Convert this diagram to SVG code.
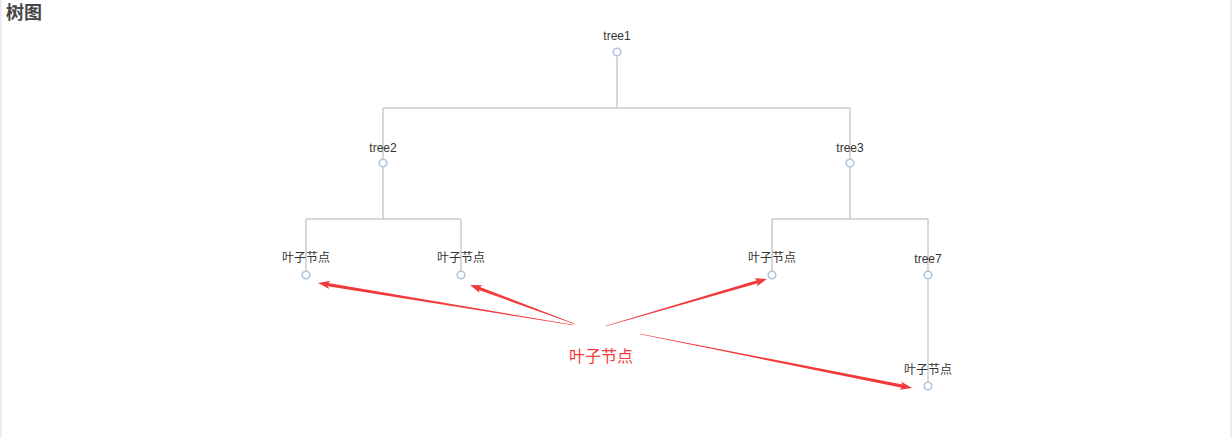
<svg xmlns="http://www.w3.org/2000/svg" width="1232" height="437" viewBox="0 0 1232 437">
<style>
.title{font-family:"Liberation Sans","Noto Sans CJK SC",sans-serif;font-size:18px;font-weight:bold;fill:#464646}
.lbl{font-family:"Liberation Sans","Noto Sans CJK SC",sans-serif;font-size:12px;fill:#333;text-anchor:middle}
.big{font-family:"Liberation Sans","Noto Sans CJK SC",sans-serif;font-size:16px;fill:#f23a3a;text-anchor:middle}
.node{fill:#fff;stroke:#b0c4de;stroke-width:1.6}
.link{fill:none;stroke:#ccc;stroke-width:1.5}
.arr{fill:#f23a3a}
</style>
<rect x="0" y="0" width="1232" height="437" fill="#fff"/>
<rect x="0" y="0" width="2" height="437" fill="#ececf0"/>
<rect x="1230" y="0" width="2" height="437" fill="#ececf0"/>
<text class="title" x="6" y="19">树图</text>
<g id="links">
<path class="link" d="M617,56 V108 M383,108 H850 M383,108 V159 M850,108 V159"/>
<path class="link" d="M383,167 V219 M306,219 H461 M306,219 V271 M461,219 V271"/>
<path class="link" d="M850,167 V219 M772,219 H928 M772,219 V271 M928,219 V271"/>
<path class="link" d="M928,279 V382"/>
</g>
<g id="tree1"><text class="lbl" x="617" y="40">tree1</text><circle class="node" cx="617" cy="52" r="3.8"/></g>
<g id="tree2"><text class="lbl" x="383" y="152">tree2</text><circle class="node" cx="383" cy="163" r="3.8"/></g>
<g id="tree3"><text class="lbl" x="850" y="152">tree3</text><circle class="node" cx="850" cy="163" r="3.8"/></g>
<g id="leaf1"><text class="lbl" x="306" y="262">叶子节点</text><circle class="node" cx="306" cy="275" r="3.8"/></g>
<g id="leaf2"><text class="lbl" x="461" y="262">叶子节点</text><circle class="node" cx="461" cy="275" r="3.8"/></g>
<g id="leaf3"><text class="lbl" x="772" y="262">叶子节点</text><circle class="node" cx="772" cy="275" r="3.8"/></g>
<g id="tree7"><text class="lbl" x="928" y="263">tree7</text><circle class="node" cx="928" cy="275" r="3.8"/></g>
<g id="leaf4"><text class="lbl" x="928" y="374">叶子节点</text><circle class="node" cx="928" cy="386" r="3.8"/></g>
<g id="annotation">
<text class="big" x="601" y="362">叶子节点</text>
<g id="arrows">
<polygon class="arr" transform="translate(573,325) rotate(189.35)" points="0,-0.3 248.4,-1.6 246.4,-4.2 258.4,0 246.4,4.2 248.4,1.6 0,0.3"/>
<polygon class="arr" transform="translate(575,324) rotate(200.38)" points="0,-0.3 102,-1.6 100,-4.2 112,0 100,4.2 102,1.6 0,0.3"/>
<polygon class="arr" transform="translate(606,326) rotate(-16.27)" points="0,-0.3 157.7,-1.6 155.7,-4.2 167.7,0 155.7,4.2 157.7,1.6 0,0.3"/>
<polygon class="arr" transform="translate(640,334) rotate(11.23)" points="0,-0.3 267.3,-1.6 265.3,-4.2 277.3,0 265.3,4.2 267.3,1.6 0,0.3"/>
</g>
</g>
</svg>
